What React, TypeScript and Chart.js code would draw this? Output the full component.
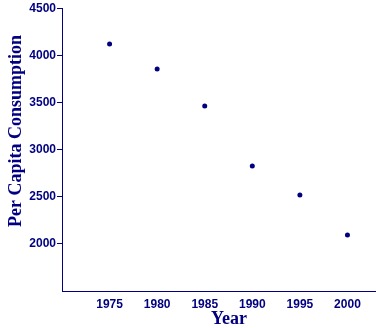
import React, { useEffect, useRef } from "react";
import { Chart, registerables } from "chart.js";

Chart.register(...registerables);

const years = [1975, 1980, 1985, 1990, 1995, 2000];
const consumption = [4119, 3854, 3462, 2826, 2519, 2095];
const xTicks = [1975, 1980, 1985, 1990, 1995, 2000];
const yTicks = [2000, 2500, 3000, 3500, 4000, 4500];
const xTitle = "Year";
const yTitle = "Per Capita Consumption";

const NAVY = "#000080";

const titlePlugin = {
  id: "axisTitles",
  afterDraw(chart: any) {
    const { ctx } = chart;
    ctx.save();
    ctx.fillStyle = NAVY;
    ctx.font = "bold 18px 'Liberation Serif'";
    ctx.textAlign = "center";
    ctx.textBaseline = "alphabetic";
    ctx.fillText(xTitle, 229, 324);
    ctx.translate(21, 131);
    ctx.rotate(-Math.PI / 2);
    ctx.fillText(yTitle, 0, 0);
    ctx.restore();
  },
};

export default function App() {
  const ref = useRef<HTMLCanvasElement | null>(null);
  useEffect(() => {
    document.body.style.margin = "0";
    const ctx = ref.current!;
    const chart = new Chart(ctx, {
      type: "scatter",
      data: {
        datasets: [
          {
            data: years.map((y, i) => ({ x: y, y: consumption[i] })),
            backgroundColor: NAVY,
            borderColor: NAVY,
            pointRadius: 2.5,
            pointBorderWidth: 0,
          },
        ],
      },
      plugins: [titlePlugin],
      options: {
        animation: false,
        responsive: false,
        maintainAspectRatio: false,
        layout: { autoPadding: false, padding: { top: 8, right: 0, left: 0, bottom: 0 } },
        plugins: { legend: { display: false }, tooltip: { enabled: false } },
        scales: {
          x: {
            type: "linear",
            min: 1970,
            max: 2003,
            afterBuildTicks: (s: any) => {
              s.ticks = xTicks.map((v) => ({ value: v }));
            },
            afterFit: (s: any) => {
              s.height = 37;
              s.paddingRight = 0;
              s.paddingLeft = 0;
            },
            grid: { display: false, drawTicks: false },
            border: { display: true, color: NAVY, width: 1 },
            ticks: {
              color: NAVY,
              padding: 6,
              maxRotation: 0,
              font: { family: "Liberation Sans", weight: "bold", size: 12 },
              callback: (v: any) => String(v),
            },
          },
          y: {
            type: "linear",
            min: 1500,
            max: 4500,
            afterBuildTicks: (s: any) => {
              s.ticks = yTicks.map((v) => ({ value: v }));
            },
            afterFit: (s: any) => {
              s.width = 62;
            },
            grid: {
              drawOnChartArea: false,
              drawTicks: true,
              tickLength: 5,
              color: NAVY,
            },
            border: { display: true, color: NAVY, width: 1 },
            ticks: {
              color: NAVY,
              padding: 1,
              font: { family: "Liberation Sans", weight: "bold", size: 12 },
              callback: (v: any) => String(v),
            },
          },
        },
      },
    });
    return () => chart.destroy();
  }, []);
  return (
    <div style={{ width: 376, height: 328 }}>
      <canvas ref={ref} width={376} height={328} style={{ display: "block" }} />
    </div>
  );
}
